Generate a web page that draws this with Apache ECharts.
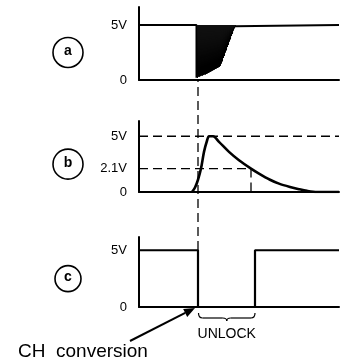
<!DOCTYPE html>
<html>
<head>
<meta charset="utf-8">
<script src="https://cdn.jsdelivr.net/npm/echarts@6/dist/echarts.min.js"></script>
<style>
  html, body { margin: 0; padding: 0; background: #fff; }
  #chart { width: 346px; height: 362px; }
</style>
</head>
<body>
<div id="chart"></div>
<script>
// Timing diagram: switch input (a), integrator voltage (b), lock output (c)
const timeMax = 200;            // time axis span (arbitrary units)
const highV = 5;                // logic high level
const thresholdV = 2.1;         // comparator threshold
const convT = 59;               // CH conversion instant
const thresholdT = 112;         // (b) falls through the threshold
const unlockEndT = 116;         // (c) returns high
const panelNames = ['a', 'b', 'c'];
const panelTicks = [[0, 5], [0, 2.1, 5], [0, 5]];

// (a) contact chatter after the switch closes
const aDropT = 57.5;
const bounceTimes = [58, 59, 60, 61, 62, 63, 64, 65, 66, 67, 68, 69, 70, 71, 72, 73, 74, 75, 76, 77,
                     78, 79, 80, 81, 82, 83, 84, 85, 86, 87, 88, 89, 90, 91, 92, 93, 94, 95, 96];
const bounceLows  = [0.2, 0.3, 0.3, 0.35, 0.4, 0.4, 0.45, 0.5, 0.5, 0.55, 0.6, 0.65, 0.7, 0.75, 0.8, 0.85, 0.9, 0.95, 1.0, 1.05,
                     1.1, 1.15, 1.2, 1.3, 1.5, 1.7, 2.0, 2.2, 2.5, 2.7, 3.0, 3.2, 3.5, 3.7, 4.0, 4.2, 4.5, 4.7, 4.9];
const bounceEndT = 96;

// (b) integrator response
const bTimes = [53, 56, 59, 62, 65, 68, 70, 74, 80, 90, 100, 112, 120, 131, 140, 151, 160, 168, 178, 200];
const bVolts = [0, 0.4, 1.1, 2.1, 3.6, 4.6, 5.0, 5.0, 4.5, 3.6, 2.85, 2.1, 1.65, 1.1, 0.75, 0.45, 0.25, 0.1, 0, 0];

const FONT = '"Liberation Sans", Arial, sans-serif';
const ink = '#000';

const gridBoxes = [
  { left: 139, top: 7,   width: 200, height: 73 },
  { left: 139, top: 121, width: 200, height: 71 },
  { left: 139, top: 237, width: 200, height: 70 },
  { left: 139, top: 80,  width: 200, height: 170 }   // guide spanning the panels
];
const yMaxes = [6.64, 6.37, 6.17, 1];

const chart = echarts.init(document.getElementById('chart'), null, { renderer: 'canvas' });

const xAxes = gridBoxes.map((g, i) => ({
  type: 'value', gridIndex: i, min: 0, max: timeMax,
  axisLine: { show: i < 3, onZero: true, lineStyle: { color: ink, width: 2 } },
  axisTick: { show: false }, axisLabel: { show: false }, splitLine: { show: false }
}));
const yAxes = gridBoxes.map((g, i) => ({
  type: 'value', gridIndex: i, min: 0, max: yMaxes[i],
  axisLine: { show: i < 3, lineStyle: { color: ink, width: 2 } },
  axisTick: { show: false },
  splitLine: { show: false },
  axisLabel: i < 3 ? {
    show: true, customValues: panelTicks[i], margin: 12,
    color: ink, fontFamily: FONT, fontSize: 13,
    formatter: v => (v === 0 ? '0' : v + 'V')
  } : { show: false }
}));

// build series data from the arrays above
const aMain = [[0, highV], [aDropT, highV], [aDropT, bounceLows[0]]];
const aChatter = [];
bounceTimes.forEach((t, i) => {
  aChatter.push([t, highV]);
  aChatter.push([t + 0.5, bounceLows[i]]);
});
const aTail = [[bounceEndT, bounceLows[bounceLows.length - 1]], [bounceEndT, highV], [timeMax, highV]];
const bCurve = bTimes.map((t, i) => [t, bVolts[i]]);
const cSignal = [[0, highV], [convT, highV], [convT, 0], [unlockEndT, 0], [unlockEndT, highV], [timeMax, highV]];

const solid = (w) => ({ color: ink, width: w });
const dashed = { color: ink, width: 1.3, type: [9, 5] };
const base = { type: 'line', symbol: 'none', silent: true, animation: false };

const option = {
  backgroundColor: '#fff',
  animation: false,
  grid: gridBoxes.map(g => Object.assign({ containLabel: false }, g)),
  xAxis: xAxes,
  yAxis: yAxes,
  series: [
    Object.assign({}, base, { xAxisIndex: 0, yAxisIndex: 0, data: aMain, lineStyle: solid(2) }),
    Object.assign({}, base, { xAxisIndex: 0, yAxisIndex: 0, data: aChatter, lineStyle: solid(1) }),
    Object.assign({}, base, { xAxisIndex: 0, yAxisIndex: 0, data: aTail, lineStyle: solid(2) }),
    Object.assign({}, base, { xAxisIndex: 1, yAxisIndex: 1, data: [[0, highV], [timeMax, highV]], lineStyle: dashed }),
    Object.assign({}, base, { xAxisIndex: 1, yAxisIndex: 1, data: [[0, thresholdV], [thresholdT, thresholdV]], lineStyle: dashed }),
    Object.assign({}, base, { xAxisIndex: 1, yAxisIndex: 1, data: [[thresholdT, thresholdV], [thresholdT, 0]], lineStyle: dashed }),
    Object.assign({}, base, { xAxisIndex: 1, yAxisIndex: 1, data: bCurve, smooth: 0.3, lineStyle: solid(2.6) }),
    Object.assign({}, base, { xAxisIndex: 2, yAxisIndex: 2, data: cSignal, lineStyle: solid(2.2) }),
    Object.assign({}, base, { xAxisIndex: 3, yAxisIndex: 3, data: [[convT, 0], [convT, 1]], lineStyle: dashed })
  ]
};
chart.setOption(option);

// annotations positioned from the axes
const px = (g, t, v) => chart.convertToPixel({ gridIndex: g }, [t, v]);
const graphics = [];
panelNames.forEach((name, i) => {
  const mid = px(i, 0, highV / 2);
  const r = i === 2 ? 13 : 15;
  graphics.push({
    type: 'circle', shape: { cx: 68, cy: mid[1], r: r },
    style: { fill: 'none', stroke: ink, lineWidth: 1.6 }, silent: true
  });
  graphics.push({
    type: 'text', x: 68, y: mid[1] - 1,
    style: { text: name, fill: ink, font: 'bold 14px ' + FONT, align: 'center', verticalAlign: 'middle' },
    silent: true
  });
});

// brace and label under the unlock interval
const bl = px(2, convT + 0.5, 0);
const br = px(2, unlockEndT, 0);
const y0 = bl[1] + 6, y1 = y0 + 5, y2 = y0 + 8;
const xm = (bl[0] + br[0]) / 2;
const braceStyle = { fill: 'none', stroke: ink, lineWidth: 1.2 };
const bez = (x1, yA, cx, cy, x2, yB) => ({
  type: 'bezierCurve', silent: true,
  shape: { x1: x1, y1: yA, cpx1: cx, cpy1: cy, x2: x2, y2: yB },
  style: braceStyle
});
graphics.push(bez(bl[0], y0, bl[0], y1, bl[0] + 4, y1));
graphics.push({ type: 'line', silent: true, shape: { x1: bl[0] + 4, y1: y1, x2: xm - 4, y2: y1 }, style: braceStyle });
graphics.push(bez(xm - 4, y1, xm, y1, xm, y2));
graphics.push(bez(xm, y2, xm, y1, xm + 4, y1));
graphics.push({ type: 'line', silent: true, shape: { x1: xm + 4, y1: y1, x2: br[0] - 4, y2: y1 }, style: braceStyle });
graphics.push(bez(br[0] - 4, y1, br[0], y1, br[0], y0));
graphics.push({
  type: 'text', x: xm, y: y2 + 13, silent: true,
  style: { text: 'UNLOCK', fill: ink, font: '14px ' + FONT, align: 'center', verticalAlign: 'middle' }
});

// arrow to the conversion instant
const tip = px(2, convT, 0);
const tipX = tip[0] - 3, tipY = tip[1] + 1;
const tailX = 130, tailY = 341;
const ang = Math.atan2(tipY - tailY, tipX - tailX);
const hl = 11, hw = 4.5;
const bx = tipX - hl * Math.cos(ang), by = tipY - hl * Math.sin(ang);
graphics.push({
  type: 'line', silent: true,
  shape: { x1: tailX, y1: tailY, x2: bx, y2: by },
  style: { stroke: ink, lineWidth: 2 }
});
graphics.push({
  type: 'polygon', silent: true,
  shape: { points: [[tipX, tipY],
                    [bx + hw * Math.sin(ang), by - hw * Math.cos(ang)],
                    [bx - hw * Math.sin(ang), by + hw * Math.cos(ang)]] },
  style: { fill: ink }
});
graphics.push({
  type: 'text', x: 18, y: 352, silent: true,
  style: { text: 'CH  conversion', fill: ink, font: '19px ' + FONT, align: 'left', verticalAlign: 'middle' }
});

chart.setOption({ graphic: { elements: graphics } });
</script>
</body>
</html>
